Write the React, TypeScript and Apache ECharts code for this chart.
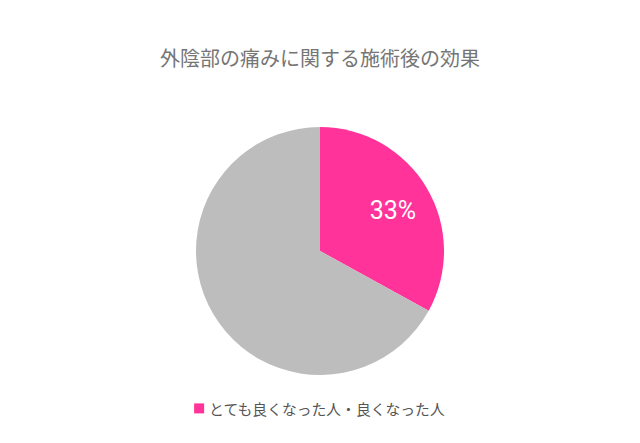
import React, { useEffect, useRef } from "react";
import * as echarts from "echarts";

const titleText = "外陰部の痛みに関する施術後の効果";
const categories = ["とても良くなった人・良くなった人", "その他"];
const values = [33, 67];
const colors = ["#FF3399", "#BDBDBD"];
const legendItems = ["とても良くなった人・良くなった人"];

export default function App() {
  const ref = useRef<HTMLDivElement>(null);
  useEffect(() => {
    document.body.style.margin = "0";
    const chart = echarts.init(ref.current!, null, { renderer: "svg" });
    const font = "'Noto Sans CJK JP', 'Noto Sans', sans-serif";
    chart.setOption({
      animation: false,
      backgroundColor: "#ffffff",
      title: {
        text: titleText,
        left: "center",
        top: 42,
        textStyle: { color: "#757575", fontSize: 20, fontWeight: "normal", fontFamily: font },
      },
      legend: {
        data: legendItems,
        left: "center",
        top: 396,
        icon: "rect",
        itemWidth: 10,
        itemHeight: 10,
        itemGap: 8,
        textStyle: { color: "#555555", fontSize: 14.8, fontFamily: font },
      },
      series: [
        {
          type: "pie",
          center: [320, 251],
          radius: 124,
          startAngle: 90,
          clockwise: true,
          silent: true,
          data: categories.map((c, i) => ({
            name: c,
            value: values[i],
            itemStyle: { color: colors[i] },
            label:
              i === 0
                ? {
                    show: true,
                    position: "inside",
                    formatter: "{d}%",
                    offset: [17, -7],
                    color: "#ffffff",
                    fontSize: 25,
                    fontFamily: "Roboto, sans-serif",
                  }
                : { show: false },
          })),
          labelLine: { show: false },
          emphasis: { disabled: true },
        },
      ],
    });
    return () => chart.dispose();
  }, []);
  return <div ref={ref} style={{ width: 640, height: 443 }} />;
}
